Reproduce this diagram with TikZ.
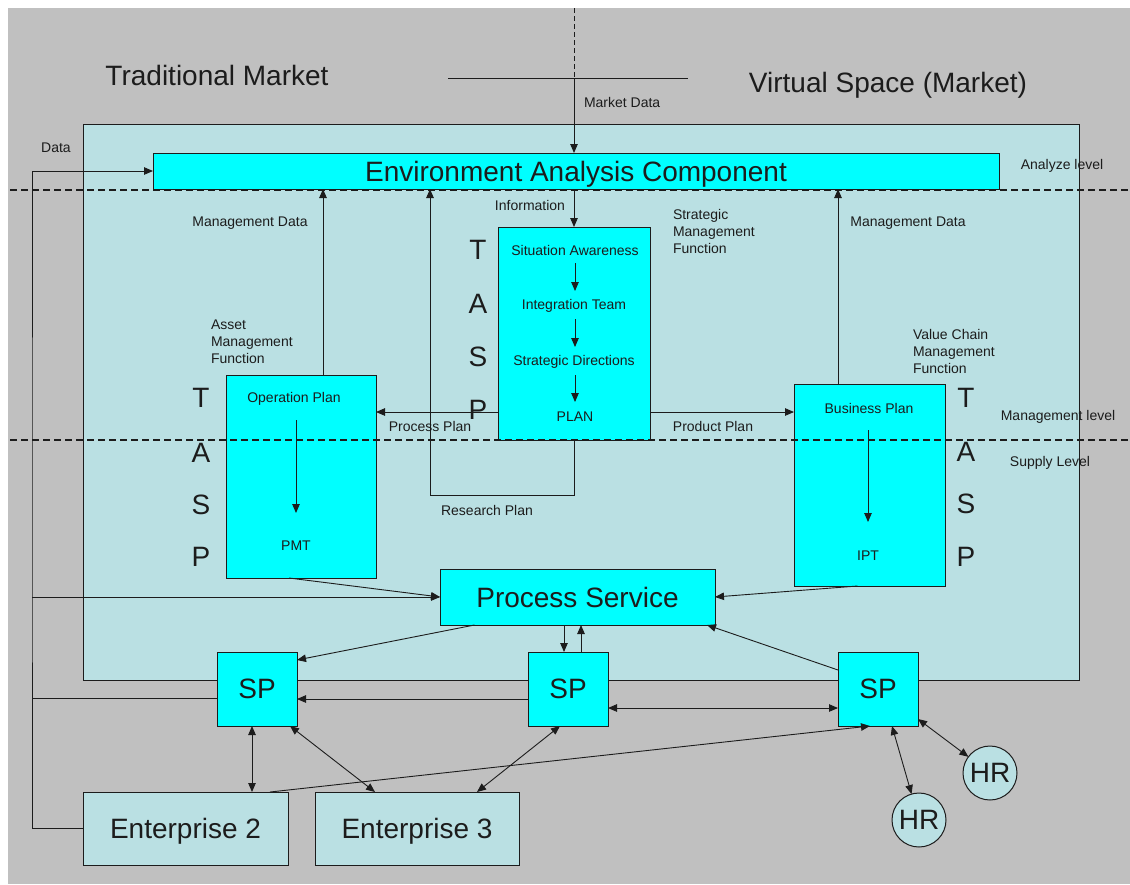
\documentclass[tikz,border=0pt]{standalone}
\usepackage{fontspec}
\setmainfont{Liberation Sans}
\usetikzlibrary{arrows.meta}

\definecolor{bggray}{HTML}{C0C0C0}
\definecolor{paleblue}{HTML}{BAE0E3}
\definecolor{brightcyan}{HTML}{00FFFF}
\definecolor{ink}{HTML}{1C1C1C}

\begin{document}
\begin{tikzpicture}[x=1pt, y=-1pt,
  every node/.style={inner sep=0pt, outer sep=0pt, text=ink},
  tip/.tip={Triangle[length=9pt, width=7.5pt]},
  wire/.style={draw=ink, line width=0.9pt},
  arr/.style={wire, -tip},
  darr/.style={wire, tip-tip},
  cyanbox/.style={draw=ink, line width=1pt, fill=brightcyan, rectangle},
  palebox/.style={draw=ink, line width=1pt, fill=paleblue, rectangle},
  hrcircle/.style={draw=ink, line width=1pt, fill=paleblue, circle, minimum size=54pt},
  big/.style={font=\fontsize{28}{32}\selectfont},
  capcentred/.style={text depth=0pt},
  small/.style={font=\fontsize{14}{17}\selectfont},
  multi/.style={small, align=left, anchor=west},
  levelline/.style={draw=ink, line width=1.1pt, dash pattern=on 7pt off 4pt}
]
% canvas and background
\useasboundingbox (0,0) rectangle (1130,884);
\fill[white] (0,0) rectangle (1130,884);
\fill[bggray] (8,8) rectangle (1130,884);

% virtual space area
\node[palebox, minimum width=996pt, minimum height=556pt] (space) at (581,402) {};

% market titles
\node[big] (trad) at (217,75) {Traditional Market};
\node[big] (virt) at (888,85) {Virtual Space (Market)};

% main boxes
\node[cyanbox, minimum width=846pt, minimum height=36pt, big, capcentred] (env) at (576,171) {Environment Analysis Component};
\node[cyanbox, minimum width=152pt, minimum height=213pt] (strat) at (574,333.5) {};
\node[cyanbox, minimum width=150pt, minimum height=203pt] (op) at (301,476.5) {};
\node[cyanbox, minimum width=151pt, minimum height=202pt] (bus) at (869.5,485) {};
\node[cyanbox, minimum width=275pt, minimum height=56pt, big] (ps) at (577.5,597) {Process Service};
\node[cyanbox, minimum width=80pt, minimum height=74pt, big] (sp1) at (257,689) {SP};
\node[cyanbox, minimum width=80pt, minimum height=74pt, big] (sp2) at (568,689) {SP};
\node[cyanbox, minimum width=80pt, minimum height=74pt, big] (sp3) at (878,689) {SP};
\node[palebox, minimum width=205pt, minimum height=73pt, big, capcentred] (e2) at (185.5,828.5) {Enterprise 2};
\node[palebox, minimum width=204pt, minimum height=73pt, big, capcentred] (e3) at (417,828.5) {Enterprise 3};
\node[hrcircle, big] (hr1) at (919,820) {HR};
\node[hrcircle, big] (hr2) at (990,773) {HR};

% strategic management steps
\node[small] (sa) at (575,250) {Situation Awareness};
\node[small] (it) at (574,306) {Integration Team};
\node[small] (sd) at (574,362) {Strategic Directions};
\node[small] (plan) at (575,417) {PLAN};
\draw[arr, shorten <=13pt, shorten >=15pt] (sa.center) -- (sa.center |- it.center);
\draw[arr, shorten <=13pt, shorten >=15pt] (sa.center |- it.center) -- (sa.center |- sd.center);
\draw[arr, shorten <=13pt, shorten >=15pt] (sa.center |- sd.center) -- (sa.center |- plan.center);

% asset and value chain plans
\node[small] (optxt) at (294,399) {Operation Plan};
\node[small] (pmt) at (296,546) {PMT};
\draw[arr, shorten <=21pt, shorten >=33pt] (pmt.center |- optxt.center) -- (pmt.center);
\node[small] (bptxt) at (869,408) {Business Plan};
\node[small] (ipt) at (868,556) {IPT};
\draw[arr, shorten <=22pt, shorten >=34pt] (ipt.center |- bptxt.center) -- (ipt.center);

% TASP columns
\node[big] (tl) at (201,398) {T};
\node[big] (al) at (201,453) {A};
\node[big] (sl) at (201,505) {S};
\node[big] (pl) at (201,557) {P};
\node[big] (tm) at (478,250) {T};
\node[big] (am) at (478,304) {A};
\node[big] (smid) at (478,357) {S};
\node[big] (pm) at (478,410) {P};
\node[big] (tr) at (966,398) {T};
\node[big] (ar) at (966,452) {A};
\node[big] (sr) at (966,504) {S};
\node[big] (pr) at (966,557) {P};

% function captions
\node[multi] (smf) at (673,231) {Strategic\\Management\\Function};
\node[multi] (amf) at (211,342) {Asset\\Management\\Function};
\node[multi] (vcf) at (913,351) {Value Chain\\Management\\Function};

% market data input
\coordinate (mdtop) at (574,8);
\coordinate (mdmid) at (574,78);
\coordinate (hlA) at (448,78);
\coordinate (hlB) at (688,78);
\draw[wire] (hlA) -- (hlB);
\draw[wire, dash pattern=on 5pt off 3pt] (mdtop) -- (mdmid);
\draw[arr] (mdmid) -- (mdmid |- env.north);
\node[small, anchor=west] (mdlab) at (584,102) {Market Data};

% information and management data
\draw[arr] (env.south -| strat.north) -- (strat.north);
\node[small] (info) at (530,205) {Information};
\coordinate (opTop) at (323,375);
\draw[arr] (opTop) -- (opTop |- env.south);
\node[small] (mdl) at (250,223) {Management Data};
\coordinate (busTop) at (838,384);
\draw[arr] (busTop) -- (busTop |- env.south);
\node[small] (mdr) at (908,223) {Management Data};

% research plan loop
\coordinate (rpCorner) at (430,495);
\draw[arr] (strat.south) |- (rpCorner) -- (rpCorner |- env.south);
\node[small] (rplab) at (487,510) {Research Plan};

% process and product plans
\coordinate (ppRow) at (0,412);
\draw[arr] (strat.west |- ppRow) -- (op.east |- ppRow);
\draw[arr] (strat.east |- ppRow) -- (bus.west |- ppRow);
\node[small] (pplab) at (430,426) {Process Plan};
\node[small] (prlab) at (713,426) {Product Plan};

% external data bus on the left
\coordinate (lbus) at (32,500);
\coordinate (sp1in) at (217,698);
\draw[arr] (e2.west) -| (lbus) |- (env.west);
\draw[arr] (lbus |- ps.west) -- (ps.west);
\draw[wire] (lbus |- sp1in) -- (sp1in);
\node[small] (datalab) at (56,148) {Data};

% plans into process service
\draw[arr] ([xshift=-12pt]op.south) -- (ps.west);
\draw[arr] ([xshift=-12pt]bus.south) -- (ps.east);

% process service and service providers
\coordinate (sp2dn) at (564,652);
\coordinate (sp2up) at (581,652);
\draw[arr] ([xshift=-103pt]ps.south) -- ([yshift=29pt]sp1.east);
\draw[arr] (sp2dn |- ps.south) -- (sp2dn);
\draw[arr] (sp2up) -- (sp2up |- ps.south);
\draw[arr] ([yshift=19pt]sp3.west) -- ([xshift=-8pt]ps.south east);
\draw[arr] ([yshift=-10pt]sp2.west) -- ([yshift=-10pt]sp1.east);
\draw[darr] ([yshift=-19pt]sp2.east) -- ([yshift=-19pt]sp3.west);

% enterprises and human resources
\draw[darr] ([xshift=-5pt]sp1.south) -- ([xshift=66.5pt]e2.north);
\draw[darr] ([xshift=33pt]sp1.south) -- ([xshift=-42pt]e3.north);
\draw[darr] ([xshift=-8pt]sp2.south) -- ([xshift=60pt]e3.north);
\draw[arr] ([xshift=84.5pt]e2.north) -- ([xshift=-8pt]sp3.south);
\draw[darr] ([xshift=14pt]sp3.south) -- (hr1);
\draw[darr] ([yshift=-30pt]sp3.east) -- (hr2);

% level boundaries
\coordinate (lvA1) at (10,190);
\coordinate (lvA2) at (1128,190);
\coordinate (lvB1) at (10,440);
\coordinate (lvB2) at (1128,440);
\draw[levelline] (lvA1) -- (lvA2);
\draw[levelline] (lvB1) -- (lvB2);
\node[small] (analyze) at (1062,166) {Analyze level};
\node[small] (mgmt) at (1058,417) {Management level};
\node[small] (supply) at (1050,463) {Supply Level};
\end{tikzpicture}
\end{document}
